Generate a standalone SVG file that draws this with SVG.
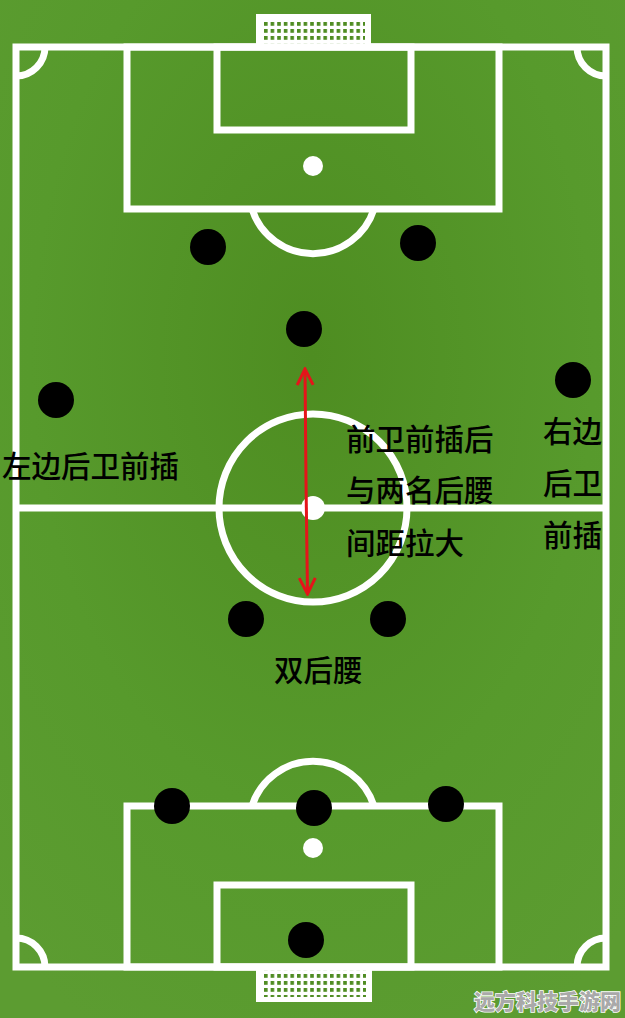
<svg xmlns="http://www.w3.org/2000/svg" width="625" height="1018" viewBox="0 0 625 1018">
<defs>
<radialGradient id="bg" cx="0.5" cy="0.35" r="0.75">
<stop offset="0" stop-color="#4e8d21"/>
<stop offset="0.6" stop-color="#579a2c"/>
<stop offset="1" stop-color="#5c9c31"/>
</radialGradient>
<pattern id="net" x="264" y="0" width="6.6" height="7" patternUnits="userSpaceOnUse">
<rect x="0" y="0" width="3.6" height="3.8" fill="#4f8c22"/>
</pattern>
<marker id="ah" viewBox="0 0 20 20" refX="18" refY="10" markerWidth="20" markerHeight="20" markerUnits="userSpaceOnUse" orient="auto">
<path d="M2 2 L18 10 L2 18" fill="none" stroke="#e5141a" stroke-width="3"/>
</marker>
<style>
.ln{fill:none;stroke:#fff;stroke-width:7}
.spot{fill:#fff}
.pl{fill:#000}
.tx{font-family:"Noto Sans CJK SC","Noto Sans CJK JP",sans-serif;font-size:29.5px;font-weight:500;fill:#000}
.wm{font-family:"Noto Sans CJK SC",sans-serif;font-weight:900;font-size:21px;fill:#a9a9a9;stroke:#fff;stroke-width:1.6;paint-order:stroke}
</style>
</defs>
<rect width="625" height="1018" fill="url(#bg)"/>
<g id="pitch">
<rect x="256" y="14" width="115" height="33" fill="#fff"/>
<rect x="262" y="19" width="103" height="26" fill="url(#net)" transform="translate(0,1)"/>
<rect x="256" y="968" width="116" height="34" fill="#fff"/>
<rect x="262" y="969" width="104" height="27" fill="url(#net)" transform="translate(0,1)"/>
<rect class="ln" x="16" y="47" width="590" height="920"/>
<line class="ln" x1="16" y1="508" x2="606" y2="508"/>
<circle class="ln" cx="313" cy="508" r="94"/>
<circle class="spot" cx="313" cy="508" r="12"/>
<rect class="ln" x="127" y="47" width="372" height="162"/>
<rect class="ln" x="217" y="47" width="194" height="83"/>
<circle class="spot" cx="313" cy="166" r="10"/>
<path class="ln" d="M252 209 A64 64 0 0 0 374 209"/>
<rect class="ln" x="127" y="806" width="372" height="161"/>
<rect class="ln" x="217" y="885" width="194" height="82"/>
<circle class="spot" cx="313" cy="848" r="10"/>
<path class="ln" d="M252 806 A64 64 0 0 1 374 806"/>
<path class="ln" d="M16 76 A29 29 0 0 0 45 47"/>
<path class="ln" d="M577 47 A29 29 0 0 0 606 76"/>
<path class="ln" d="M16 938 A29 29 0 0 1 45 967"/>
<path class="ln" d="M606 938 A29 29 0 0 0 577 967"/>
</g>
<g id="connectors">
<line x1="306" y1="481" x2="305" y2="369" stroke="#e5141a" stroke-width="3" marker-end="url(#ah)"/>
<line x1="306" y1="481" x2="307.5" y2="594" stroke="#e5141a" stroke-width="3" marker-end="url(#ah)"/>
</g>
<g id="p1"><circle class="pl" cx="208" cy="247" r="18"/></g>
<g id="p2"><circle class="pl" cx="418" cy="243" r="18"/></g>
<g id="p3"><circle class="pl" cx="304" cy="329" r="18"/></g>
<g id="p4"><circle class="pl" cx="56" cy="400" r="18"/></g>
<g id="p5"><circle class="pl" cx="573" cy="380" r="18"/></g>
<g id="p6"><circle class="pl" cx="246" cy="619" r="18"/></g>
<g id="p7"><circle class="pl" cx="388" cy="619" r="18"/></g>
<g id="p8"><circle class="pl" cx="172" cy="806" r="18"/></g>
<g id="p9"><circle class="pl" cx="314" cy="808" r="18"/></g>
<g id="p10"><circle class="pl" cx="446" cy="804" r="18"/></g>
<g id="p11"><circle class="pl" cx="306" cy="940" r="18"/></g>
<g id="label-mid">
<text class="tx" x="346" y="450">前卫前插后</text>
<text class="tx" x="346" y="501">与两名后腰</text>
<text class="tx" x="346" y="554">间距拉大</text>
</g>
<g id="label-right">
<text class="tx" x="543" y="442">右边</text>
<text class="tx" x="543" y="494">后卫</text>
<text class="tx" x="543" y="546">前插</text>
</g>
<g id="label-left"><text class="tx" x="2" y="477">左边后卫前插</text></g>
<g id="label-dm"><text class="tx" x="274" y="681">双后腰</text></g>
<g id="watermark"><text class="wm" x="474" y="1009">远方科技手游网</text></g>
</svg>
